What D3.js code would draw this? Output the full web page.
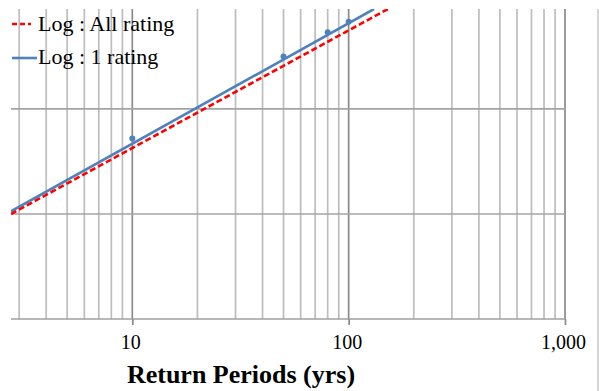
<!DOCTYPE html>
<html>
<head>
<meta charset="utf-8">
<script src="https://cdn.jsdelivr.net/npm/d3@7"></script>
<style>
  body { margin: 0; background: #fff; }
  svg { display: block; }
  text { font-family: "Liberation Serif", "Times New Roman", serif; fill: #000; }
</style>
</head>
<body>
<svg id="chart" width="599" height="391"></svg>
<script>
// return periods (yrs) of the plotted points
const periods = [10, 50, 80, 100];
const oneRatingValues = [1.72, 2.50, 2.73, 2.83];

// log trend lines, two ends each (period, value)
const allTrendPeriods = [2.75, 152];
const allTrendValues = [1.00, 2.952];
const oneTrendPeriods = [2.75, 131];
const oneTrendValues = [1.025, 2.952];

const majorTicks = [10, 100, 1000];
const minorTicks = [3, 4, 5, 6, 7, 8, 9, 20, 30, 40, 50, 60, 70, 80, 90,
                    200, 300, 400, 500, 600, 700, 800, 900];
const yGrid = [1, 2];

const seriesNames = ["Log : All rating", "Log : 1 rating"];

const svg = d3.select("#chart");
const plotLeft = 11, plotRight = 565, plotTop = 9, plotBottom = 319;

const x = d3.scaleLog().domain([2.75, 1000]).range([plotLeft, plotRight]);
const y = d3.scaleLinear().domain([0, 2.952]).range([plotBottom, plotTop]);

svg.append("clipPath").attr("id", "plot")
   .append("rect")
   .attr("x", plotLeft).attr("y", plotTop)
   .attr("width", plotRight - plotLeft).attr("height", plotBottom - plotTop);

// vertical grid
svg.append("g").selectAll("line")
   .data(minorTicks)
   .enter().append("line")
   .attr("x1", d => x(d)).attr("x2", d => x(d))
   .attr("y1", plotTop).attr("y2", plotBottom)
   .attr("stroke", "#bdbdbd").attr("stroke-width", 1.7);

svg.append("g").selectAll("line")
   .data(majorTicks)
   .enter().append("line")
   .attr("x1", d => x(d)).attr("x2", d => x(d))
   .attr("y1", plotTop).attr("y2", plotBottom)
   .attr("stroke", "#8a8a8a").attr("stroke-width", 1.7);

// horizontal grid
svg.append("g").selectAll("line")
   .data(yGrid)
   .enter().append("line")
   .attr("x1", plotLeft).attr("x2", plotRight)
   .attr("y1", d => y(d)).attr("y2", d => y(d))
   .attr("stroke", "#a4a4a4").attr("stroke-width", 1.7);

// x axis
const xAxis = svg.append("g")
   .attr("transform", `translate(0,${plotBottom})`)
   .call(d3.axisBottom(x).tickValues(majorTicks)
           .tickSize(6).tickPadding(10)
           .tickFormat(d3.format(",")));
xAxis.select(".domain").attr("stroke", "#a0a0a0").attr("stroke-width", 1.7)
     .attr("d", `M${plotLeft},0H${plotRight}`);
xAxis.selectAll(".tick line").attr("stroke", "#8a8a8a").attr("stroke-width", 1.7);
xAxis.selectAll(".tick text")
     .attr("font-family", "Liberation Serif")
     .attr("font-size", 20)
     .attr("dx", -2)
     .attr("fill", "#000");

// chart border on the right
svg.append("line")
   .attr("x1", 598).attr("x2", 598)
   .attr("y1", plotTop).attr("y2", 391)
   .attr("stroke", "#c4c4c4").attr("stroke-width", 1.4);

// trend lines
const line = d3.line().x(d => x(d[0])).y(d => y(d[1]));
const plot = svg.append("g").attr("clip-path", "url(#plot)");

plot.append("path")
   .datum(oneTrendPeriods.map((p, i) => [p, oneTrendValues[i]]))
   .attr("d", line)
   .attr("fill", "none")
   .attr("stroke", "#4f81bd").attr("stroke-width", 2.6);

plot.append("path")
   .datum(allTrendPeriods.map((p, i) => [p, allTrendValues[i]]))
   .attr("d", line)
   .attr("fill", "none")
   .attr("stroke", "#ff0000").attr("stroke-width", 2.6)
   .attr("stroke-dasharray", "6,3");

plot.selectAll("circle")
   .data(periods)
   .enter().append("circle")
   .attr("cx", d => x(d))
   .attr("cy", (d, i) => y(oneRatingValues[i]))
   .attr("r", 3)
   .attr("fill", "#4f81bd");

// legend
const legend = svg.append("g");
legend.append("line")
   .attr("x1", 12).attr("x2", 31).attr("y1", 24).attr("y2", 24)
   .attr("stroke", "#ff0000").attr("stroke-width", 2.6)
   .attr("stroke-dasharray", "5,3");
legend.append("line")
   .attr("x1", 12).attr("x2", 37).attr("y1", 58).attr("y2", 58)
   .attr("stroke", "#4f81bd").attr("stroke-width", 2.6);
legend.selectAll("text")
   .data(seriesNames)
   .enter().append("text")
   .attr("x", 38)
   .attr("y", (d, i) => 31 + i * 33)
   .attr("font-size", 22)
   .text(d => d);

// axis title
svg.append("text")
   .attr("x", 241).attr("y", 383)
   .attr("text-anchor", "middle")
   .attr("font-size", 26)
   .attr("font-weight", "bold")
   .text("Return Periods (yrs)");
</script>
</body>
</html>
